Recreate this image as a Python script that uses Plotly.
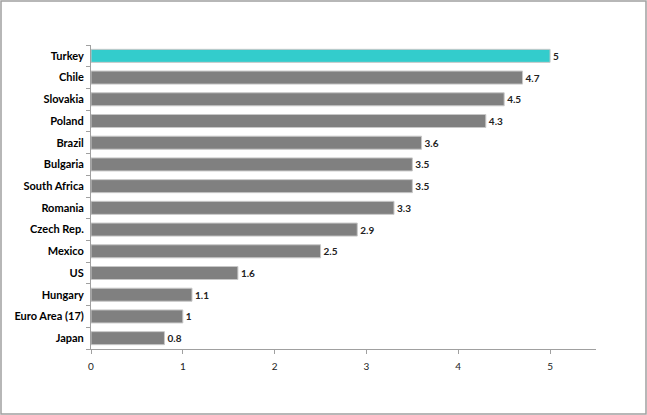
import plotly.graph_objects as go

countries = ["Turkey", "Chile", "Slovakia", "Poland", "Brazil", "Bulgaria", "South Africa",
             "Romania", "Czech Rep.", "Mexico", "US", "Hungary", "Euro Area (17)", "Japan"]
values = [5, 4.7, 4.5, 4.3, 3.6, 3.5, 3.5, 3.3, 2.9, 2.5, 1.6, 1.1, 1, 0.8]
highlight = "Turkey"
x_ticks = [0, 1, 2, 3, 4, 5]

colors = ["#33CCCC" if c == highlight else "#808080" for c in countries]
labels = [f"{v:g}" for v in values]

W, H = 647, 415
ml, mr, mt, mb = 91, 51, 45, 66

fig = go.Figure(go.Bar(
    x=values, y=countries, orientation="h",
    marker=dict(color=colors, line=dict(color="#c8c8c8", width=1)),
    text=labels, textposition="outside",
    textfont=dict(family="Lato", size=10, color="#222222", weight="bold"),
    cliponaxis=False, width=0.6,
))

pw = W - ml - mr
ph = H - mt - mb
fig.add_shape(type="rect", xref="paper", yref="paper",
              x0=-(ml - 1) / pw, x1=1 + (mr - 1) / pw,
              y0=-(mb - 1) / ph, y1=1 + (mt - 1) / ph,
              line=dict(color="#a0a0a0", width=1.5), layer="below")

fig.update_layout(
    width=W, height=H,
    margin=dict(l=ml, r=mr, t=mt, b=mb, autoexpand=False),
    paper_bgcolor="white", plot_bgcolor="white",
    showlegend=False,
    font=dict(family="Lato", color="#000000"),
    xaxis=dict(range=[0, 5.5], tickvals=x_ticks, showgrid=False, zeroline=False,
               automargin=False,
               showline=True, linecolor="#a0a0a0", linewidth=1,
               ticks="outside", ticklen=4, tickcolor="#a0a0a0",
               ticklabelstandoff=4,
               tickfont=dict(family="Lato", size=10, color="#222222")),
    yaxis=dict(categoryorder="array", categoryarray=countries[::-1],
               automargin=False,
               showgrid=False, zeroline=False, showline=True, linecolor="#a0a0a0",
               linewidth=1, ticks="outside", ticklen=4, tickcolor="#a0a0a0",
               tickson="boundaries", ticklabelstandoff=4,
               tickfont=dict(family="Lato", size=11, color="#000000", weight="bold")),
)

fig.write_html("out.html", config={"displayModeBar": False},
               post_script="document.body.style.margin='0px';")
